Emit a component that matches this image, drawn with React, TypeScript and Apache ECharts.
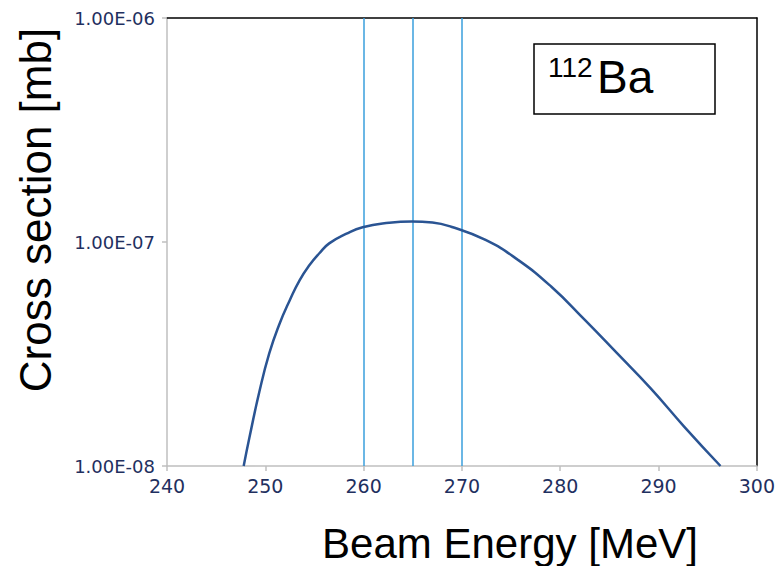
import React, { useEffect, useRef } from "react";
import * as echarts from "echarts";

const energies = [247.8, 248.4, 249.4, 250.4, 251.4, 252.5, 253.5, 254.5, 255.5, 256.5, 258.2, 259.9, 262.6, 264.9, 267.0, 268.9, 272.4, 275.7, 279.1, 282.5, 285.8, 289.2, 292.6, 296.3];
const crossSections = [1.0e-8, 1.35e-8, 2.15e-8, 3.18e-8, 4.26e-8, 5.51e-8, 6.76e-8, 7.89e-8, 8.91e-8, 9.86e-8, 1.086e-7, 1.164e-7, 1.219e-7, 1.236e-7, 1.222e-7, 1.17e-7, 1.021e-7, 8.32e-8, 6.31e-8, 4.49e-8, 3.18e-8, 2.22e-8, 1.5e-8, 1.0e-8];
const markerEnergies = [260, 265, 270];
const xTitle = "Beam Energy [MeV]";
const yTitle = "Cross section [mb]";
const nuclideMass = "112";
const nuclideSymbol = "Ba";

function formatSci(v: number): string {
  const e = Math.floor(Math.log10(v) + 1e-9);
  const m = v / Math.pow(10, e);
  const sign = e < 0 ? "-" : "+";
  return m.toFixed(2) + "E" + sign + String(Math.abs(e)).padStart(2, "0");
}

export default function App() {
  const ref = useRef<HTMLDivElement>(null);
  useEffect(() => {
    if (!ref.current) return;
    const chart = echarts.init(ref.current, null, { renderer: "svg" });
    const labelColor = "#1f3060";
    const gray = "#bfbfbf";
    chart.setOption({
      animation: false,
      backgroundColor: "#ffffff",
      grid: { left: 167, right: 18, top: 18, bottom: 100 },
      xAxis: [
        {
          type: "value",
          min: 240,
          max: 300,
          interval: 10,
          position: "bottom",
          axisLine: { show: true, lineStyle: { color: gray, width: 1.5 } },
          axisTick: { show: true, length: 5, lineStyle: { color: gray, width: 1.5 } },
          axisLabel: { color: labelColor, fontFamily: "DejaVu Sans", fontSize: 19, margin: 10 },
          splitLine: { show: false },
        },
        {
          type: "value",
          min: 240,
          max: 300,
          position: "top",
          axisLine: { show: true, onZero: false, lineStyle: { color: "#000000", width: 1.5 } },
          axisTick: { show: false },
          axisLabel: { show: false },
          splitLine: { show: false },
        },
      ],
      yAxis: [
        {
          type: "log",
          logBase: 10,
          min: 1e-8,
          max: 1e-6,
          position: "left",
          axisLine: { show: true, lineStyle: { color: gray, width: 1.5 } },
          axisTick: { show: true, length: 5, lineStyle: { color: gray, width: 1.5 } },
          axisLabel: {
            color: labelColor,
            fontFamily: "DejaVu Sans",
            fontSize: 18,
            margin: 12,
            formatter: (v: number) => formatSci(v),
          },
          splitLine: { show: false },
          minorTick: { show: false },
        },
        {
          type: "log",
          logBase: 10,
          min: 1e-8,
          max: 1e-6,
          position: "right",
          axisLine: { show: true, onZero: false, lineStyle: { color: "#000000", width: 1.5 } },
          axisTick: { show: false },
          axisLabel: { show: false },
          splitLine: { show: false },
        },
      ],
      series: [
        {
          type: "line",
          xAxisIndex: 0,
          yAxisIndex: 0,
          data: energies.map((e, i) => [e, crossSections[i]]),
          smooth: 0.5,
          showSymbol: false,
          symbol: "none",
          lineStyle: { color: "#2a5493", width: 2.5 },
          z: 3,
          markLine: {
            silent: true,
            symbol: "none",
            label: { show: false },
            lineStyle: { color: "#3a9fdc", width: 1.5, type: "solid" },
            data: markerEnergies.map((x) => ({ xAxis: x })),
            z: 2,
          },
        },
      ],
      graphic: [
        {
          type: "rect",
          shape: { x: 534, y: 44, width: 181, height: 70 },
          style: { fill: "#ffffff", stroke: "#000000", lineWidth: 1.5 },
          z: 10,
        },
        {
          type: "text",
          x: 548,
          y: 67,
          style: {
            text: nuclideMass,
            fontFamily: "Liberation Sans",
            fontSize: 28,
            fill: "#000000",
            align: "left",
            verticalAlign: "middle",
          },
          z: 11,
        },
        {
          type: "text",
          x: 597,
          y: 77,
          style: {
            text: nuclideSymbol,
            fontFamily: "Liberation Sans",
            fontSize: 46,
            fill: "#000000",
            align: "left",
            verticalAlign: "middle",
          },
          z: 11,
        },
        {
          type: "text",
          x: 510,
          y: 543,
          style: {
            text: xTitle,
            fontFamily: "Liberation Sans",
            fontSize: 42,
            fill: "#000000",
            align: "center",
            verticalAlign: "middle",
          },
        },
        {
          type: "text",
          x: 35,
          y: 210,
          rotation: Math.PI / 2,
          style: {
            text: yTitle,
            fontFamily: "Liberation Sans",
            fontSize: 44,
            fill: "#000000",
            align: "center",
            verticalAlign: "middle",
          },
        },
      ],
    });
    return () => chart.dispose();
  }, []);
  return (
    <div
      ref={ref}
      style={{ position: "absolute", left: 0, top: 0, width: 778, height: 566 }}
    />
  );
}
